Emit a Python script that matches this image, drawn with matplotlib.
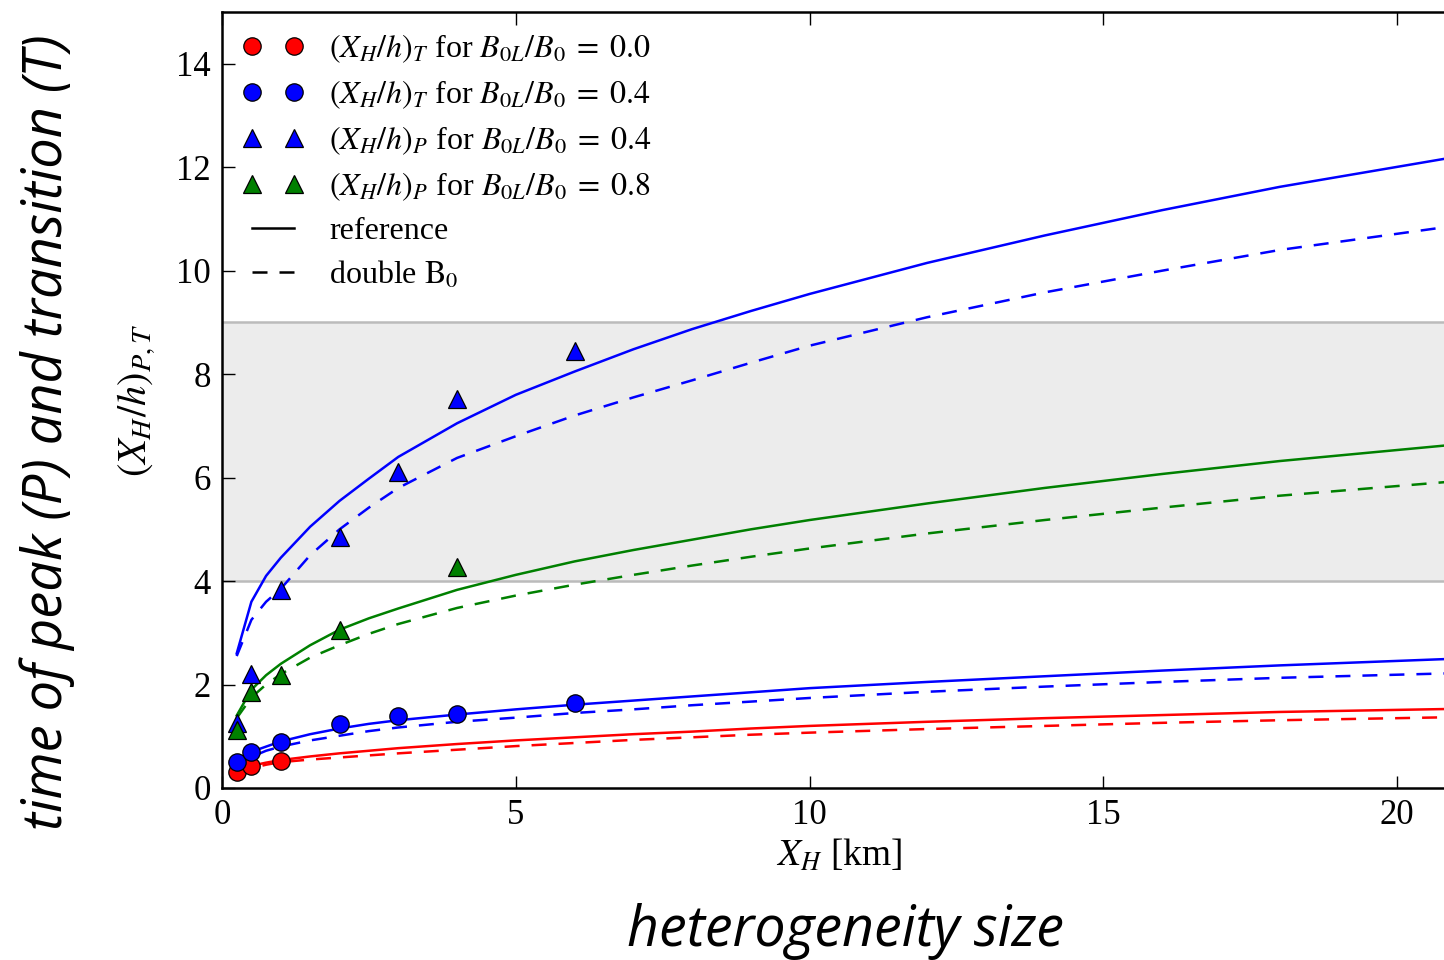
import matplotlib
matplotlib.use("Agg")
import matplotlib.pyplot as plt

# heterogeneity size X_H [km] at which the model curves were evaluated
X_CURVE = [0.25, 0.5, 0.75, 1, 1.5, 2, 2.5, 3, 4, 5, 6, 7, 8, 9, 10, 12, 14, 16, 18, 21]

# peak (P) curves, B0L/B0 = 0.4 (blue) and 0.8 (green)
P04_REF = [2.6, 3.6, 4.1, 4.45, 5.05, 5.55, 5.98, 6.4, 7.05, 7.6, 8.05, 8.48, 8.87, 9.22,
           9.55, 10.15, 10.68, 11.17, 11.62, 12.2]
P04_DBL = [2.55, 3.25, 3.6, 3.85, 4.5, 5.0, 5.42, 5.8, 6.38, 6.8, 7.2, 7.55, 7.88, 8.22,
           8.55, 9.1, 9.58, 10.0, 10.4, 10.87]
P08_REF = [1.4, 1.9, 2.18, 2.4, 2.76, 3.06, 3.28, 3.47, 3.83, 4.12, 4.38, 4.6, 4.8, 5.0,
           5.18, 5.5, 5.8, 6.07, 6.32, 6.64]
P08_DBL = [1.35, 1.75, 2.0, 2.2, 2.52, 2.76, 2.98, 3.17, 3.48, 3.72, 3.93, 4.12, 4.3, 4.47,
           4.63, 4.92, 5.18, 5.42, 5.65, 5.93]

# transition (T) curves, B0L/B0 = 0.4 (blue) and 0.0 (red)
T04_REF = [0.45, 0.7, 0.8, 0.9, 1.04, 1.15, 1.24, 1.31, 1.42, 1.52, 1.61, 1.69, 1.77, 1.85,
           1.93, 2.05, 2.16, 2.27, 2.37, 2.5]
T04_DBL = [0.4, 0.6, 0.72, 0.8, 0.92, 1.01, 1.1, 1.17, 1.28, 1.36, 1.45, 1.52, 1.6, 1.67,
           1.74, 1.86, 1.96, 2.05, 2.13, 2.22]
T00_REF = [0.3, 0.43, 0.49, 0.54, 0.61, 0.67, 0.72, 0.77, 0.85, 0.92, 0.98, 1.04, 1.09, 1.15,
           1.2, 1.28, 1.35, 1.41, 1.47, 1.53]
T00_DBL = [0.28, 0.38, 0.45, 0.5, 0.55, 0.59, 0.63, 0.67, 0.74, 0.81, 0.87, 0.93, 0.98, 1.03,
           1.07, 1.14, 1.2, 1.26, 1.31, 1.37]

# simulation results
X_T00 = [0.25, 0.5, 1]
Y_T00 = [0.30, 0.43, 0.53]
X_T04 = [0.25, 0.5, 1, 2, 3, 4, 6]
Y_T04 = [0.50, 0.70, 0.88, 1.24, 1.40, 1.43, 1.64]
X_P04 = [0.25, 0.5, 1, 2, 3, 4, 6]
Y_P04 = [1.26, 2.20, 3.83, 4.85, 6.10, 7.52, 8.45]
X_P08 = [0.25, 0.5, 1, 2, 4]
Y_P08 = [1.12, 1.86, 2.19, 3.06, 4.27]

BAND = (4, 9)

LEGEND_LABELS = [
    r"$(X_H/h)_T$ for $B_{0L}/B_0\;=\;0.0$",
    r"$(X_H/h)_T$ for $B_{0L}/B_0\;=\;0.4$",
    r"$(X_H/h)_P$ for $B_{0L}/B_0\;=\;0.4$",
    r"$(X_H/h)_P$ for $B_{0L}/B_0\;=\;0.8$",
    "reference",
    r"double $\mathrm{B}_0$",
]

LW = 1.8
DASHES = (6, 4.8)


def setup_style():
    plt.rcParams["font.family"] = "serif"
    plt.rcParams["font.serif"] = ["Liberation Serif", "DejaVu Serif"]
    plt.rcParams["mathtext.fontset"] = "stix"
    plt.rcParams["xtick.direction"] = "in"
    plt.rcParams["ytick.direction"] = "in"


def draw(ax):
    ax.axhspan(BAND[0], BAND[1], facecolor="#ececec", edgecolor="none", zorder=0)
    for yb in BAND:
        ax.axhline(yb, color="#bbbbbb", linewidth=1.8, zorder=0.5)

    curves = [
        (P04_REF, "blue", "-"), (P04_DBL, "blue", "--"),
        (P08_REF, "green", "-"), (P08_DBL, "green", "--"),
        (T04_REF, "blue", "-"), (T04_DBL, "blue", "--"),
        (T00_REF, "red", "-"), (T00_DBL, "red", "--"),
    ]
    for ys, col, ls in curves:
        line, = ax.plot(X_CURVE, ys, color=col, linestyle=ls, linewidth=LW, zorder=2)
        if ls == "--":
            line.set_dashes(DASHES)

    mk = dict(linestyle="none", markeredgecolor="black", markeredgewidth=0.9, zorder=3)
    h1, = ax.plot(X_T00, Y_T00, "o", color="red", markersize=12.5, **mk)
    h2, = ax.plot(X_T04, Y_T04, "o", color="blue", markersize=12.5, **mk)
    h3, = ax.plot(X_P04, Y_P04, "^", color="blue", markersize=13, **mk)
    h4, = ax.plot(X_P08, Y_P08, "^", color="green", markersize=13, **mk)

    # legend-only line styles
    h5, = ax.plot([], [], color="black", linewidth=LW)
    h6, = ax.plot([], [], color="black", linewidth=LW, dashes=DASHES)

    leg = ax.legend([h1, h2, h3, h4, h5, h6], LEGEND_LABELS, loc="upper left",
                    numpoints=2, frameon=False, fontsize=23, handlelength=1.9,
                    handletextpad=0.8, labelspacing=0.42, borderaxespad=0.25)
    return leg


def main():
    setup_style()
    fig = plt.figure(figsize=(14.44, 9.6), dpi=100)
    ax = fig.add_axes([222 / 1444, 172 / 960, 1234 / 1444, 776 / 960])

    draw(ax)

    ax.set_xlim(0, 21)
    ax.set_ylim(0, 15)
    ax.set_xticks([0, 5, 10, 15, 20])
    ax.set_yticks([0, 2, 4, 6, 8, 10, 12, 14])
    ax.tick_params(axis="both", which="major", labelsize=25, length=9, width=1,
                   top=True, right=True, pad=8)
    for sp in ax.spines.values():
        sp.set_linewidth(1.8)

    ax.set_xlabel(r"$X_H$ [km]", fontsize=27)
    ax.xaxis.set_label_coords(0.5, -0.064)
    ax.set_ylabel(r"$(X_H/h)_{P,T}$", fontsize=29)
    ax.yaxis.set_label_coords(-0.052, 0.5)

    sans = ["Liberation Sans Narrow", "Open Sans", "DejaVu Sans"]
    fig.text(47 / 1444, 1 - 432 / 960, "time of peak (P) and transition (T)",
             rotation=90, ha="center", va="center", fontsize=39,
             style="italic", family=sans)
    fig.text(845 / 1444, 1 - 932 / 960, "heterogeneity size",
             ha="center", va="center", fontsize=40, style="italic", family=sans)

    fig.savefig("out.png", dpi=100)


if __name__ == "__main__":
    main()
